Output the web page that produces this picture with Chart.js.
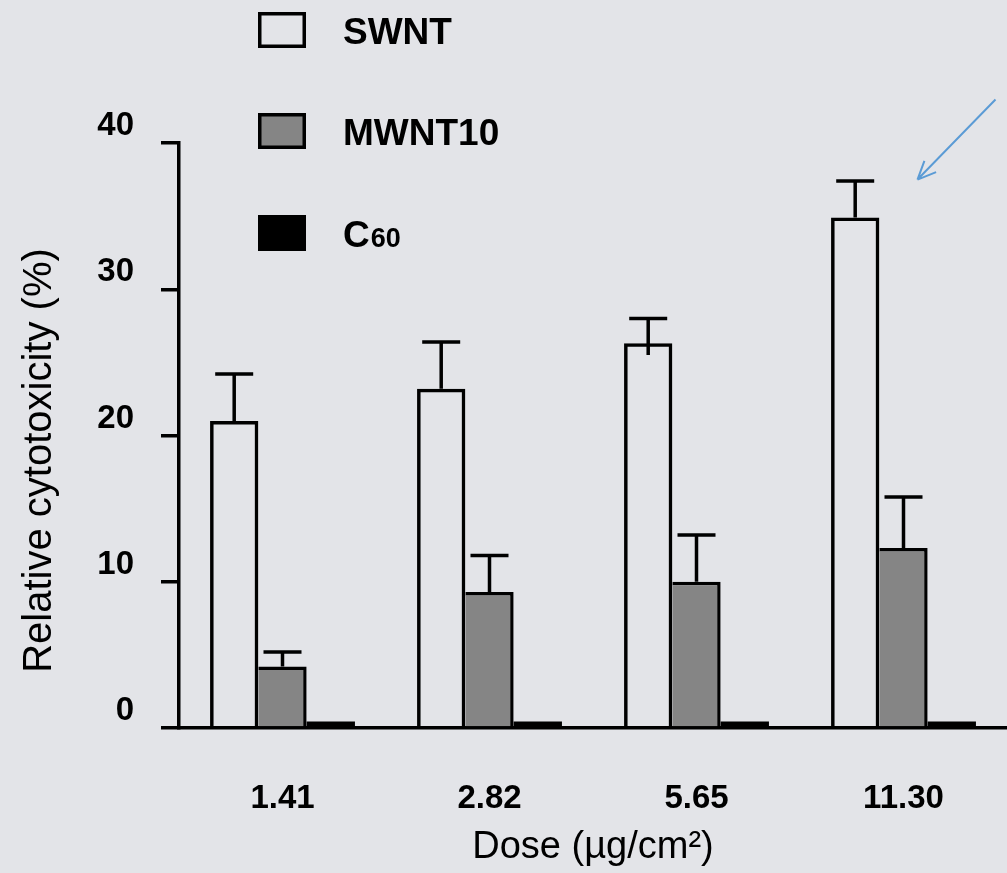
<!DOCTYPE html>
<html>
<head>
<meta charset="utf-8">
<script src="https://cdn.jsdelivr.net/npm/chart.js@4.4.1/dist/chart.umd.min.js"></script>
<style>
html,body{margin:0;padding:0;background:#e3e4e8;overflow:hidden}
#wrap{position:relative;width:1007px;height:873px}
</style>
</head>
<body>
<div id="wrap"><canvas id="c"></canvas></div>
<script>
/* ===== datos ===== */
const doses=['1.41','2.82','5.65','11.30'];
const swnt=[21.0,23.2,26.3,34.9];
const swntErr=[3.2,3.2,1.7,2.5];
const swntErrLo=[0,0,0.8,0];
const mwnt=[4.2,9.3,10.0,12.3];
const mwntErr=[1.0,2.5,3.2,3.5];
const c60=[0.45,0.45,0.45,0.45];
const yTicks=[0,10,20,30,40];
const yTitle='Relative cytotoxicity (%)';

const FONT='"Liberation Sans", Arial, sans-serif';

// barras de error (solo hacia arriba, salvo errLo)
const errBars={id:'errBars',afterDatasetsDraw(chart){
  const ctx=chart.ctx,ys=chart.scales.y;
  ctx.save();ctx.strokeStyle='#000';ctx.lineWidth=3.5;
  chart.data.datasets.forEach((ds,di)=>{
    if(!ds.errUp)return;
    chart.getDatasetMeta(di).data.forEach((bar,i)=>{
      const v=ds.data[i],up=ds.errUp[i],lo=(ds.errLo||[])[i]||0;
      if(!up)return;
      const yt=ys.getPixelForValue(v+up),yb=ys.getPixelForValue(v-lo);
      ctx.beginPath();
      ctx.moveTo(bar.x,yb);ctx.lineTo(bar.x,yt);
      ctx.moveTo(bar.x-19,yt);ctx.lineTo(bar.x+19,yt);
      ctx.stroke();
    });
  });
  ctx.restore();
}};

// leyenda en columna arriba a la izquierda
const colLegend={id:'colLegend',afterDraw(chart){
  const ctx=chart.ctx;
  const rows=[12,113,215];
  ctx.save();
  chart.data.datasets.forEach((ds,i)=>{
    const y=rows[i];
    if(ds.backgroundColor!=='transparent'){ctx.fillStyle=ds.backgroundColor;ctx.fillRect(258,y,48,36);}
    ctx.strokeStyle='#000';ctx.lineWidth=3.5;
    ctx.strokeRect(259.75,y+1.75,44.5,32.5);
    ctx.fillStyle='#000';ctx.textBaseline='alphabetic';ctx.textAlign='left';
    const base=y+32;
    if(ds.label==='C60'){
      ctx.font='bold 37px '+FONT;ctx.fillText('C',343,base);
      const w=ctx.measureText('C').width;
      ctx.font='bold 27px '+FONT;ctx.fillText('60',343+w+1,base);
    }else{
      ctx.font='bold 37px '+FONT;ctx.fillText(ds.label,343,base);
    }
  });
  ctx.restore();
}};

// título del eje Y (algo por debajo del centro, como en el original)
const yTitlePl={id:'yTitlePl',afterDraw(chart){
  const ctx=chart.ctx,a=chart.chartArea;
  ctx.save();
  ctx.translate(40,(a.top+a.bottom)/2+25);ctx.rotate(-Math.PI/2);
  ctx.font='40px '+FONT;ctx.fillStyle='#000';ctx.textAlign='center';ctx.textBaseline='middle';
  ctx.fillText(yTitle,0,0);
  ctx.restore();
}};

// flecha azul que señala la barra SWNT de 11.30
const arrow={id:'arrow',afterDraw(chart){
  const ctx=chart.ctx,xs=chart.scales.x,ys=chart.scales.y;
  const tx=xs.getPixelForValue(3)+14,ty=ys.getPixelForValue(37.5);
  const sx=tx+78,sy=ty-80;
  const a=Math.atan2(sy-ty,sx-tx);
  ctx.save();ctx.strokeStyle='#5b9bd5';ctx.lineWidth=2;
  ctx.beginPath();ctx.moveTo(sx,sy);ctx.lineTo(tx,ty);
  [0.42,-0.42].forEach(d=>{
    ctx.moveTo(tx,ty);ctx.lineTo(tx+20*Math.cos(a+d),ty+20*Math.sin(a+d));
  });
  ctx.stroke();ctx.restore();
}};

new Chart(document.getElementById('c'),{
  type:'bar',
  data:{labels:doses,datasets:[
    {label:'SWNT',data:swnt,errUp:swntErr,errLo:swntErrLo,backgroundColor:'transparent',
      borderColor:'#000',borderWidth:{left:3.5,top:3.5,right:3.5,bottom:0},borderSkipped:false},
    {label:'MWNT10',data:mwnt,errUp:mwntErr,backgroundColor:'#858585',
      borderColor:'#000',borderWidth:{left:0,top:3.5,right:3.5,bottom:0},borderSkipped:false},
    {label:'C60',data:c60,backgroundColor:'#000',borderWidth:0}
  ]},
  options:{
    responsive:true,maintainAspectRatio:false,animation:false,
    layout:{padding:{left:17,top:143,right:0,bottom:0}},
    plugins:{legend:{display:false},tooltip:{enabled:false}},
    datasets:{bar:{categoryPercentage:0.70,barPercentage:1.0}},
    scales:{
      x:{
        afterFit:s=>{s.height=145;},
        grid:{display:false},
        border:{display:true,color:'#000',width:3.5},
        ticks:{color:'#000',font:{family:FONT,size:33,weight:'bold'},padding:43,maxRotation:0},
        title:{display:true,text:'Dose (µg/cm²)',color:'#000',font:{family:FONT,size:38},padding:{top:0,bottom:3}}
      },
      y:{
        min:0,max:40,
        afterFit:s=>{s.width=162;},
        afterBuildTicks:s=>{s.ticks=yTicks.map(v=>({value:v}));},
        grid:{drawOnChartArea:false,drawTicks:true,tickLength:18,color:'#000',lineWidth:3.5},
        border:{display:true,color:'#000',width:3.5},
        ticks:{color:'#000',font:{family:FONT,size:33,weight:'bold'},padding:27,labelOffset:-17}
      }
    }
  },
  plugins:[errBars,colLegend,yTitlePl,arrow]
});
</script>
</body>
</html>
